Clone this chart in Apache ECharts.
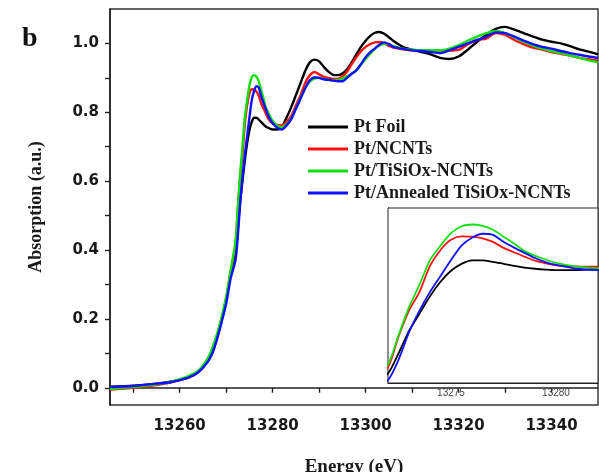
<!DOCTYPE html>
<html>
<head>
<meta charset="utf-8">
<script src="https://cdn.jsdelivr.net/npm/echarts@6/dist/echarts.min.js"></script>
<style>html,body{margin:0;padding:0;background:#fff;}#chart{width:599px;height:472px;}</style>
</head>
<body>
<div id="chart"></div>
<script>
// ---- data ----
const energy = [
  13245, 13250, 13255, 13258, 13260, 13262, 13264, 13266, 13267, 13268,
  13269, 13270, 13271, 13272, 13272.5, 13273, 13273.5, 13274, 13274.5, 13275,
  13275.5, 13276, 13276.5, 13277, 13277.5, 13278, 13278.5, 13279, 13279.5, 13280,
  13281, 13282, 13283, 13284, 13285, 13286, 13287, 13288, 13289, 13290,
  13291, 13292, 13293, 13294, 13295, 13296, 13297, 13298, 13299, 13300,
  13301, 13302, 13303, 13304, 13305, 13306, 13308, 13310, 13312, 13314,
  13316, 13318, 13320, 13322, 13324, 13326, 13328, 13330, 13332, 13334,
  13336, 13338, 13340, 13342, 13344, 13346, 13348, 13350
];
const ptFoil = [
  0.003, 0.006, 0.012, 0.018, 0.023, 0.032, 0.047, 0.078, 0.100, 0.145,
  0.195, 0.255, 0.335, 0.393, 0.462, 0.540, 0.600, 0.660, 0.710, 0.748,
  0.772, 0.784, 0.784, 0.779, 0.772, 0.765, 0.759, 0.755, 0.752, 0.750,
  0.750, 0.758, 0.785, 0.815, 0.850, 0.885, 0.920, 0.945, 0.953, 0.948,
  0.932, 0.918, 0.909, 0.908, 0.913, 0.925, 0.945, 0.968, 0.990, 1.008,
  1.022, 1.031, 1.033, 1.028, 1.018, 1.007, 0.990, 0.982, 0.975, 0.968,
  0.958, 0.955, 0.962, 0.982, 1.005, 1.025, 1.042, 1.048, 1.040, 1.030,
  1.020, 1.011, 1.005, 1.000, 0.992, 0.983, 0.976, 0.968
];
const ptNCNTs = [
  -0.005, 0.000, 0.008, 0.015, 0.022, 0.030, 0.046, 0.080, 0.110, 0.150,
  0.200, 0.260, 0.340, 0.415, 0.520, 0.610, 0.675, 0.765, 0.820, 0.855,
  0.867, 0.866, 0.860, 0.848, 0.827, 0.812, 0.797, 0.783, 0.774, 0.767,
  0.763, 0.762, 0.772, 0.790, 0.820, 0.850, 0.885, 0.908, 0.917, 0.910,
  0.903, 0.900, 0.897, 0.897, 0.905, 0.918, 0.940, 0.960, 0.977, 0.990,
  0.998, 1.003, 1.004, 1.000, 0.993, 0.988, 0.983, 0.980, 0.980, 0.980,
  0.980, 0.979, 0.981, 0.998, 1.010, 1.014, 1.030, 1.025, 1.010, 0.998,
  0.988, 0.982, 0.975, 0.970, 0.965, 0.958, 0.954, 0.950
];
const ptTiSiOx = [
  -0.003, 0.002, 0.010, 0.017, 0.025, 0.035, 0.050, 0.085, 0.115, 0.155,
  0.205, 0.265, 0.345, 0.425, 0.525, 0.622, 0.700, 0.785, 0.835, 0.878,
  0.902, 0.908, 0.903, 0.890, 0.866, 0.842, 0.816, 0.800, 0.787, 0.775,
  0.762, 0.757, 0.765, 0.782, 0.810, 0.840, 0.870, 0.890, 0.898, 0.900,
  0.897, 0.894, 0.893, 0.893, 0.898, 0.905, 0.912, 0.922, 0.938, 0.955,
  0.970, 0.985, 0.994, 0.999, 0.998, 0.992, 0.985, 0.982, 0.980, 0.980,
  0.980, 0.985, 0.995, 1.008, 1.020, 1.030, 1.036, 1.030, 1.018, 1.005,
  0.994, 0.985, 0.978, 0.972, 0.965, 0.958, 0.951, 0.945
];
const ptAnnealed = [
  0.002, 0.005, 0.012, 0.016, 0.022, 0.030, 0.045, 0.075, 0.100, 0.140,
  0.190, 0.245, 0.320, 0.370, 0.440, 0.535, 0.610, 0.675, 0.730, 0.785,
  0.835, 0.862, 0.876, 0.872, 0.848, 0.828, 0.810, 0.792, 0.778, 0.768,
  0.755, 0.750, 0.762, 0.780, 0.810, 0.840, 0.870, 0.893, 0.902, 0.900,
  0.896, 0.894, 0.892, 0.890, 0.890, 0.900, 0.912, 0.922, 0.940, 0.960,
  0.975, 0.985, 0.997, 1.003, 0.998, 0.990, 0.984, 0.980, 0.978, 0.975,
  0.972, 0.980, 0.990, 1.000, 1.010, 1.020, 1.032, 1.030, 1.020, 1.008,
  0.998, 0.990, 0.985, 0.978, 0.972, 0.967, 0.962, 0.958
];
const seriesNames = ['Pt Foil', 'Pt/NCNTs', 'Pt/TiSiOx-NCNTs', 'Pt/Annealed TiSiOx-NCNTs'];
const xTickLabels = [13260, 13280, 13300, 13320, 13340];
const xTickMarks = [13250, 13260, 13270, 13280, 13290, 13300, 13310, 13320, 13330, 13340];
const yTickLabels = [0.0, 0.2, 0.4, 0.6, 0.8, 1.0];
const yTickMarks = [0.0, 0.1, 0.2, 0.3, 0.4, 0.5, 0.6, 0.7, 0.8, 0.9, 1.0];
const insetTickLabels = [13275, 13280];
const insetTickMarks = [13272.5, 13275, 13277.5, 13280];

// ---- chart ----
const colors = ['#000000', '#ff1010', '#10e010', '#1010ff'];
const allValues = [ptFoil, ptNCNTs, ptTiSiOx, ptAnnealed];
const pairs = vals => energy.map((e, i) => [e, vals[i]]);

const serifBold = { fontFamily: 'Liberation Serif', fontWeight: 'bold', color: '#1a1a1a' };
const sansBold = { fontFamily: 'DejaVu Sans', fontWeight: 'bold', fontSize: 15, color: '#1a1a1a' };

const series = [];
allValues.forEach((vals, i) => {
  series.push({
    name: seriesNames[i], type: 'line', xAxisIndex: 0, yAxisIndex: 0,
    data: pairs(vals), showSymbol: false, symbol: 'none', smooth: 0.25,
    lineStyle: { color: colors[i], width: 2.4 }, itemStyle: { color: colors[i] }, z: 3
  });
});
allValues.forEach((vals, i) => {
  series.push({
    name: seriesNames[i], type: 'line', xAxisIndex: 1, yAxisIndex: 1,
    data: pairs(vals), showSymbol: false, symbol: 'none', smooth: 0.25, clip: true,
    lineStyle: { color: colors[i], width: 1.8 }, itemStyle: { color: colors[i] }, z: 6
  });
});

const chart = echarts.init(document.getElementById('chart'), null, { renderer: 'canvas' });
chart.setOption({
  animation: false,
  backgroundColor: '#ffffff',
  graphic: [{
    type: 'text', left: 22, top: 25,
    style: { text: 'b', font: 'bold 28px "Liberation Serif"', fill: '#111' }
  }],
  legend: {
    data: seriesNames.map(n => ({ name: n, icon: 'rect' })),
    orient: 'vertical', left: 303, top: 113,
    itemWidth: 40, itemHeight: 3, itemGap: 4,
    textStyle: Object.assign({ fontSize: 18, padding: [0, 0, 0, 1] }, serifBold)
  },
  grid: [
    { left: 110, top: 9, right: 1, bottom: 67, show: true, borderColor: '#333', borderWidth: 1.4, outerBoundsMode: 'none', containLabel: false },
    { left: 388, top: 208, width: 210, height: 175, show: true, backgroundColor: '#ffffff', borderColor: '#222', borderWidth: 1, z: 4, outerBoundsMode: 'none', containLabel: false }
  ],
  xAxis: [
    {
      type: 'value', gridIndex: 0, min: 13245, max: 13350,
      name: 'Energy (eV)', nameLocation: 'middle', nameGap: 53,
      nameTextStyle: Object.assign({ fontSize: 19 }, serifBold),
      axisLine: { show: true, lineStyle: { color: '#222', width: 1.6 } },
      axisTick: { show: true, customValues: xTickMarks, length: 5, lineStyle: { color: '#222', width: 1.4 } },
      axisLabel: { customValues: xTickLabels, margin: 14, ...sansBold, formatter: v => String(v) },
      splitLine: { show: false }
    },
    {
      type: 'value', gridIndex: 1, min: 13272, max: 13282,
      axisLine: { show: true, lineStyle: { color: '#222', width: 1 } },
      axisTick: { show: true, inside: true, customValues: insetTickMarks, length: 4, lineStyle: { color: '#333' } },
      axisLabel: { customValues: insetTickLabels, margin: 5, fontSize: 10, fontFamily: 'Liberation Sans', color: '#444', formatter: v => String(v) },
      splitLine: { show: false }
    }
  ],
  yAxis: [
    {
      type: 'value', gridIndex: 0, min: -0.05, max: 1.1,
      name: 'Absorption (a.u.)', nameLocation: 'middle', nameGap: 65, nameRotate: 90,
      nameTextStyle: Object.assign({ fontSize: 18 }, serifBold),
      axisLine: { show: true, lineStyle: { color: '#222', width: 1.6 } },
      axisTick: { show: true, customValues: yTickMarks, length: 5, lineStyle: { color: '#222', width: 1.4 } },
      axisLabel: { customValues: yTickLabels, margin: 11, ...sansBold, formatter: v => v.toFixed(1) },
      splitLine: { show: false }
    },
    {
      type: 'value', gridIndex: 1, min: 0.36, max: 0.965,
      axisLine: { show: true, lineStyle: { color: '#222', width: 1 } },
      axisTick: { show: false }, axisLabel: { show: false }, splitLine: { show: false }
    }
  ],
  series: series
});
</script>
</body>
</html>
